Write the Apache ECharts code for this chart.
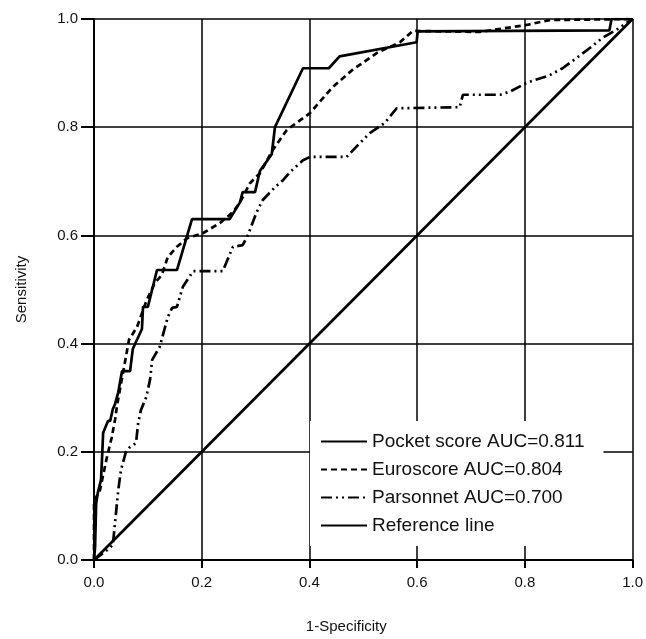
<!DOCTYPE html>
<html>
<head>
<meta charset="utf-8">
<script src="https://cdn.jsdelivr.net/npm/echarts@6/dist/echarts.min.js"></script>
<style>
  html, body { margin: 0; padding: 0; background: #fff; }
  #container { width: 646px; height: 639px; }
</style>
</head>
<body>
<div id="container"></div>
<script>
var dom = document.getElementById("container");
var myChart = echarts.init(dom);

// ROC points [1-specificity, sensitivity]
var pocketScore = [
    [0, 0], [0.002, 0.024], [0.004, 0.105], [0.007, 0.124], [0.013, 0.148],
    [0.015, 0.19], [0.017, 0.235], [0.026, 0.257], [0.030, 0.257], [0.035, 0.279],
    [0.039, 0.288], [0.045, 0.310], [0.052, 0.349], [0.067, 0.349], [0.072, 0.390],
    [0.089, 0.427], [0.091, 0.468], [0.100, 0.468], [0.117, 0.536], [0.154, 0.536],
    [0.182, 0.630], [0.252, 0.630], [0.271, 0.661], [0.276, 0.680], [0.299, 0.680],
    [0.308, 0.719], [0.330, 0.750], [0.336, 0.800], [0.388, 0.909], [0.436, 0.909],
    [0.456, 0.931], [0.599, 0.957], [0.601, 0.977], [0.957, 0.979], [0.961, 1.0],
    [1, 1]
];
var euroscore = [
    [0, 0], [0, 0.109], [0.011, 0.129], [0.017, 0.157], [0.024, 0.190],
    [0.033, 0.227], [0.039, 0.259], [0.043, 0.287], [0.048, 0.314], [0.065, 0.407],
    [0.080, 0.431], [0.098, 0.481], [0.113, 0.512], [0.126, 0.527], [0.137, 0.560],
    [0.154, 0.579], [0.173, 0.595], [0.202, 0.604], [0.234, 0.623], [0.258, 0.643],
    [0.271, 0.661], [0.290, 0.697], [0.308, 0.715], [0.332, 0.758], [0.358, 0.795],
    [0.401, 0.826], [0.443, 0.874], [0.480, 0.906], [0.525, 0.937], [0.568, 0.957],
    [0.592, 0.978], [0.716, 0.976], [0.803, 0.989], [0.846, 0.998], [1, 1]
];
var parsonnet = [
    [0, 0], [0.024, 0.018], [0.035, 0.028], [0.039, 0.068], [0.045, 0.129],
    [0.050, 0.166], [0.059, 0.199], [0.067, 0.209], [0.078, 0.216], [0.082, 0.253],
    [0.087, 0.277], [0.097, 0.301], [0.104, 0.333], [0.108, 0.370], [0.109, 0.373],
    [0.122, 0.394], [0.137, 0.449], [0.145, 0.466], [0.154, 0.468], [0.165, 0.505],
    [0.184, 0.534], [0.239, 0.534], [0.258, 0.579], [0.276, 0.582], [0.286, 0.601],
    [0.302, 0.643], [0.313, 0.665], [0.336, 0.689], [0.351, 0.702], [0.364, 0.717],
    [0.388, 0.739], [0.401, 0.745], [0.469, 0.745], [0.494, 0.771], [0.512, 0.789],
    [0.540, 0.808], [0.562, 0.835], [0.679, 0.837], [0.685, 0.860], [0.754, 0.860],
    [0.773, 0.866], [0.803, 0.882], [0.846, 0.896], [0.870, 0.909], [0.896, 0.928],
    [0.920, 0.946], [0.944, 0.965], [0.970, 0.980], [1, 1]
];
var referenceLine = [[0, 0], [1, 1]];

var seriesNames = ['Pocket score AUC=0.811', 'Euroscore AUC=0.804', 'Parsonnet AUC=0.700', 'Reference line'];

var font = '"Liberation Sans", Arial, sans-serif';

function axisCommon() {
    return {
        type: 'value',
        min: 0,
        max: 1,
        interval: 0.2,
        axisLine: { show: true, lineStyle: { color: '#000', width: 2 } },
        axisTick: { show: true, length: 8, lineStyle: { color: '#000', width: 2 } },
        axisLabel: {
            color: '#111', fontSize: 15, fontFamily: font,
            formatter: function (v) { return v.toFixed(1); }
        },
        splitLine: { show: true, lineStyle: { color: '#000', width: 1.5 } },
        nameLocation: 'middle',
        nameTextStyle: { color: '#111', fontSize: 15, fontFamily: font }
    };
}

var xAxis = axisCommon();
xAxis.name = '1-Specificity';
xAxis.nameGap = 59;
xAxis.axisLabel.margin = 15;
xAxis.nameTextStyle.padding = [0, 34, 0, 0];

var yAxis = axisCommon();
yAxis.name = 'Sensitivity';
yAxis.nameGap = 65;
yAxis.axisLabel.margin = 16;
yAxis.axisTick.length = 13;

function lineSeries(name, data, type) {
    return {
        name: name,
        type: 'line',
        data: data,
        symbol: 'none',
        showSymbol: false,
        animation: false,
        lineStyle: { color: '#000', width: 2.7, type: type },
        itemStyle: { color: '#000' },
        z: 5
    };
}

option = {
    animation: false,
    grid: { left: 94, right: 13, top: 19, bottom: 79 },
    xAxis: xAxis,
    yAxis: yAxis,
    legend: {
        data: seriesNames,
        orient: 'vertical',
        left: 310,
        top: 421,
        padding: [11, 19, 11, 10],
        itemWidth: 46,
        itemHeight: 14,
        itemGap: 9,
        backgroundColor: '#fff',
        itemStyle: { opacity: 0 },
        textStyle: { color: '#111', fontSize: 19, fontFamily: font },
        z: 10
    },
    series: [
        lineSeries(seriesNames[0], pocketScore, 'solid'),
        lineSeries(seriesNames[1], euroscore, [6, 4]),
        lineSeries(seriesNames[2], parsonnet, [11, 4, 2, 4, 2, 4]),
        lineSeries(seriesNames[3], referenceLine, 'solid')
    ]
};

if (option && typeof option === "object") {
    myChart.setOption(option, true);
}
</script>
</body>
</html>
